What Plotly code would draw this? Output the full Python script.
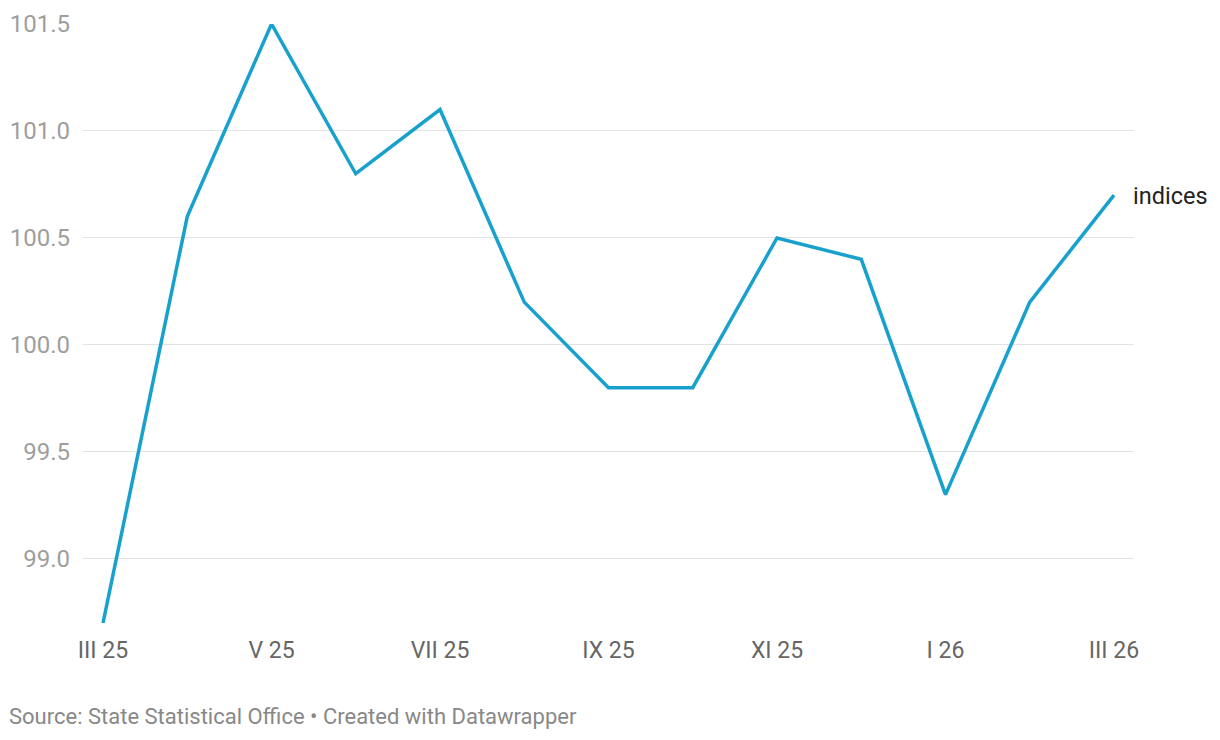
import plotly.graph_objects as go

months = ["III 25", "IV 25", "V 25", "VI 25", "VII 25", "VIII 25", "IX 25",
          "X 25", "XI 25", "XII 25", "I 26", "II 26", "III 26"]
indices = [98.7, 100.6, 101.5, 100.8, 101.1, 100.2, 99.8, 99.8, 100.5, 100.4, 99.3, 100.2, 100.7]
x_tick_labels = ["III 25", "V 25", "VII 25", "IX 25", "XI 25", "I 26", "III 26"]
y_ticks = [99.0, 99.5, 100.0, 100.5, 101.0, 101.5]
series_name = "indices"
source_text = "Source: State Statistical Office • Created with Datawrapper"

xs = list(range(len(months)))
tickpos = [months.index(t) for t in x_tick_labels]

fig = go.Figure()
fig.add_trace(go.Scatter(
    x=xs, y=indices, mode="lines",
    line=dict(color="#18a1cd", width=3.5),
    hoverinfo="skip", showlegend=False,
))

fig.add_annotation(
    x=xs[-1], y=indices[-1], xref="x", yref="y",
    text=series_name, showarrow=False, xanchor="left", yanchor="middle",
    xshift=17, yshift=-1, font=dict(family="Roboto", size=23.5, color="#222222"),
)
fig.add_annotation(
    x=0, y=0, xref="paper", yref="paper",
    text=source_text, showarrow=False, xanchor="left", yanchor="middle",
    xshift=-76, yshift=-93, font=dict(family="Roboto", size=22, color="#888888"),
)

fig.update_layout(
    width=1212, height=732,
    margin=dict(l=75, r=86, t=16, b=117, autoexpand=False),
    paper_bgcolor="white", plot_bgcolor="white",
    font=dict(family="Roboto"),
    xaxis=dict(
        range=[-0.2374, len(months) - 1 + 0.2374],
        tickvals=tickpos, ticktext=x_tick_labels,
        showgrid=False, zeroline=False, showline=False,
        ticks="", ticklabelstandoff=11, automargin=False,
        tickfont=dict(family="Roboto", size=23, color="#666666"),
    ),
    yaxis=dict(
        range=[98.7, 101.5],
        tickvals=y_ticks, ticktext=[f"{v:.1f}" for v in y_ticks],
        showgrid=True, gridcolor="#e3e3e3", gridwidth=1,
        zeroline=False, showline=False, ticks="",
        ticklabelstandoff=12, automargin=False,
        tickfont=dict(family="Roboto", size=24, color="#9e9e9e"),
    ),
)

fig.write_html("out.html")
